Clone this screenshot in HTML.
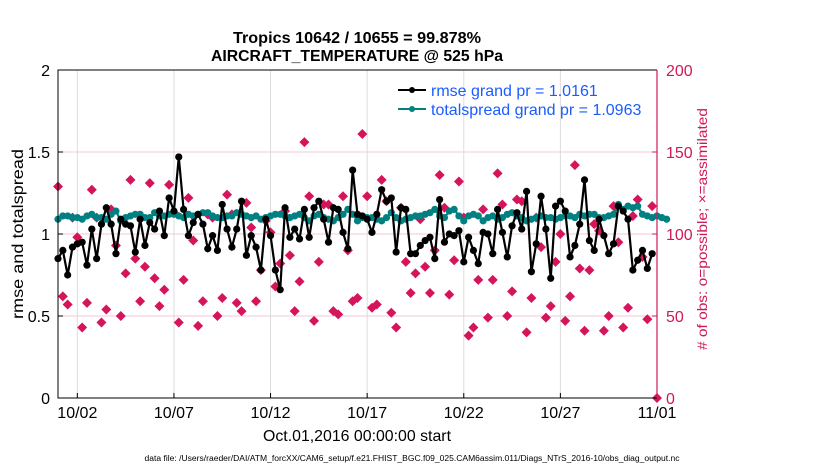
<!DOCTYPE html>
<html><head><meta charset="utf-8"><style>
body{margin:0;background:#fff;font-family:"Liberation Sans",sans-serif}
svg text{font-family:"Liberation Sans",sans-serif}
</style></head><body>
<svg id="c" width="830" height="470" xmlns="http://www.w3.org/2000/svg">
<text x="357" y="43" text-anchor="middle" font-size="15.5" font-weight="bold" textLength="248" lengthAdjust="spacingAndGlyphs">Tropics 10642 / 10655 = 99.878%</text>
<text x="357" y="61" text-anchor="middle" font-size="15.5" font-weight="bold" textLength="292" lengthAdjust="spacingAndGlyphs">AIRCRAFT_TEMPERATURE @ 525 hPa</text>
<g id="grid"></g>
<g id="marks"></g>
<g id="axes"></g>
<text transform="translate(23,234) rotate(-90)" text-anchor="middle" font-size="15.5" textLength="170" lengthAdjust="spacingAndGlyphs">rmse and totalspread</text>
<text transform="translate(707,229) rotate(-90)" text-anchor="middle" font-size="14" fill="#d1185a" textLength="242" lengthAdjust="spacingAndGlyphs"># of obs: o=possible; ×=assimilated</text>
<text x="357" y="441" text-anchor="middle" font-size="16" textLength="188" lengthAdjust="spacingAndGlyphs">Oct.01,2016 00:00:00 start</text>
<text x="412" y="461" text-anchor="middle" font-size="8" textLength="535" lengthAdjust="spacingAndGlyphs">data file: /Users/raeder/DAI/ATM_forcXX/CAM6_setup/f.e21.FHIST_BGC.f09_025.CAM6assim.011/Diags_NTrS_2016-10/obs_diag_output.nc</text>
<g>
<line x1="398" y1="90" x2="426" y2="90" stroke="#000" stroke-width="2"/>
<circle cx="412" cy="90" r="3" fill="#000"/>
<text x="431" y="96" font-size="16" fill="#1a5cff">rmse grand pr = 1.0161</text>
<line x1="398" y1="109" x2="426" y2="109" stroke="#008080" stroke-width="2"/>
<circle cx="412" cy="109" r="3" fill="#008080"/>
<text x="431" y="115" font-size="16" fill="#1a5cff">totalspread grand pr = 1.0963</text>
</g>
</svg>
<script>
const rmse=[0.85,0.90,0.75,0.92,0.94,0.95,0.81,1.03,0.85,1.06,1.16,1.06,0.88,1.09,1.06,1.05,0.89,1.09,0.93,1.07,1.03,1.14,0.99,1.22,1.14,1.47,1.15,0.99,1.07,1.12,1.06,0.91,0.99,0.90,1.18,1.03,0.92,1.03,1.20,0.87,
0.99,0.92,0.78,1.09,0.99,0.78,0.66,1.16,0.98,1.03,0.97,1.15,0.98,1.16,1.20,1.09,0.95,1.16,1.15,1.01,0.91,1.39,1.12,1.11,1.09,1.01,1.12,1.27,1.20,1.22,0.89,1.16,1.15,0.88,0.88,0.93,0.96,0.98,0.85,1.21,0.95,1.00,
0.99,1.02,0.83,0.98,0.90,0.82,1.01,1.00,0.88,1.15,1.01,0.86,1.05,1.13,1.03,1.26,0.77,0.94,1.23,1.03,0.73,1.17,1.20,1.14,0.86,0.93,1.06,1.33,0.96,0.90,1.09,0.99,0.88,0.94,1.17,1.14,1.09,0.78,0.84,0.90,0.79,0.88];
const spread=[1.09,1.11,1.11,1.10,1.10,1.09,1.11,1.12,1.10,1.10,1.09,1.12,1.14,1.08,1.10,1.11,1.12,1.12,1.10,1.10,1.13,1.11,1.11,1.12,1.12,1.11,1.10,1.12,1.11,1.12,1.13,1.13,1.11,1.10,1.10,1.11,1.11,1.13,1.12,1.11,
1.10,1.11,1.09,1.10,1.11,1.12,1.12,1.11,1.10,1.11,1.12,1.10,1.08,1.11,1.12,1.10,1.09,1.08,1.10,1.12,1.15,1.12,1.08,1.10,1.10,1.10,1.09,1.08,1.10,1.13,1.10,1.08,1.09,1.10,1.11,1.11,1.12,1.13,1.15,1.11,1.10,1.14,
1.15,1.11,1.08,1.11,1.12,1.11,1.08,1.10,1.11,1.09,1.10,1.12,1.13,1.11,1.10,1.08,1.09,1.10,1.11,1.10,1.10,1.09,1.10,1.11,1.11,1.10,1.12,1.11,1.12,1.12,1.10,1.10,1.11,1.12,1.18,1.15,1.17,1.16,1.17,1.12,1.11,1.10,1.11,1.10,1.09];
const obs=[129,62,57,110,98,43,58,127,110,46,54,115,93,50,76,133,85,59,80,131,73,56,66,130,113,46,72,122,96,44,59,112,110,50,61,124,112,58,53,119,
104,59,78,108,101,68,82,114,87,53,71,156,123,47,83,118,118,53,51,123,90,59,61,161,123,55,57,133,120,52,43,116,83,64,76,109,80,64,90,136,116,63,
84,132,110,38,43,72,115,49,72,137,118,50,65,121,120,40,61,110,92,49,56,83,100,47,62,142,79,41,78,106,102,41,50,117,95,43,55,111,121,86,48,117,0];
const xTicks=["10/02","10/07","10/12","10/17","10/22","10/27","11/01"];
const xTickDays=[1,6,11,16,21,26,31];
const yTicks=[0,0.5,1,1.5,2];
const y2Ticks=[0,50,100,150,200];
const X0=58,X1=657,Y0=398,Y1=70;
const xs=d=>X0+d/31*(X1-X0);
const ys=v=>Y0-v/2*(Y0-Y1);
const y2=v=>Y0-v/200*(Y0-Y1);
const NS="http://www.w3.org/2000/svg";
function mk(p,t,a){const e=document.createElementNS(NS,t);for(const k in a)e.setAttribute(k,a[k]);p.appendChild(e);return e;}
const G=document.getElementById('grid'),M=document.getElementById('marks'),A=document.getElementById('axes');
xTickDays.forEach((d,i)=>{
 const l=mk(G,'line',{x1:xs(d),x2:xs(d),y1:Y1,y2:Y0,stroke:'#dcdcdc','stroke-width':1});
 
 
 const t=mk(A,'line',{x1:xs(d),x2:xs(d),y1:Y0,y2:Y0-5,stroke:'#000'});
 
 
 const tx=mk(A,'text',{x:xs(d),y:Y0+20,'text-anchor':'middle','font-size':16});
 tx.textContent=xTicks[i];
 
 
});
yTicks.forEach(v=>{
 if(v>0&&v<2){const l=mk(G,'line',{x1:X0,x2:X1,y1:ys(v),y2:ys(v),stroke:'#f6c8d8','stroke-width':1});
 
 }
 const tx=mk(A,'text',{x:X0-8,y:ys(v)+6,'text-anchor':'end','font-size':16});
 tx.textContent=String(v);
 
 
 mk(A,'line',{x1:X0,x2:X0+5,y1:ys(v),y2:ys(v),stroke:'#000'});
});
y2Ticks.forEach(v=>{
 const tx=mk(A,'text',{x:X1+9,y:y2(v)+6,'font-size':16,fill:'#d1185a'});
 tx.textContent=String(v);
 
 
 mk(A,'line',{x1:X1,x2:X1-5,y1:y2(v),y2:y2(v),stroke:'#d1185a'});
});
const fr=mk(A,'path',{d:`M${X1},${Y1}H${X0}V${Y0}H${X1}`,fill:'none',stroke:'#000','stroke-width':1});


const ra=mk(A,'line',{x1:X1,x2:X1,y1:Y1,y2:Y0,stroke:'#d1185a','stroke-width':1.2});


obs.forEach((v,i)=>{
 const x=xs(i/4),y=y2(v);
 const d=mk(M,'path',{d:`M${x},${y-5}L${x+5},${y}L${x},${y+5}L${x-5},${y}Z`,fill:'#d6145c'});
 
 
});
function series(arr,col,name){
 const pts=arr.map((v,i)=>xs(i/4)+','+ys(v)).join(' ');
 const pl=mk(M,'polyline',{points:pts,fill:'none',stroke:col,'stroke-width':2.2});
 
 
 arr.forEach((v,i)=>{
  const c=mk(M,'circle',{cx:xs(i/4),cy:ys(v),r:3.6,fill:col});
  
  
 });
}
series(spread,'#008080','totalspread');
series(rmse,'#000','rmse');
</script>
</body></html>
